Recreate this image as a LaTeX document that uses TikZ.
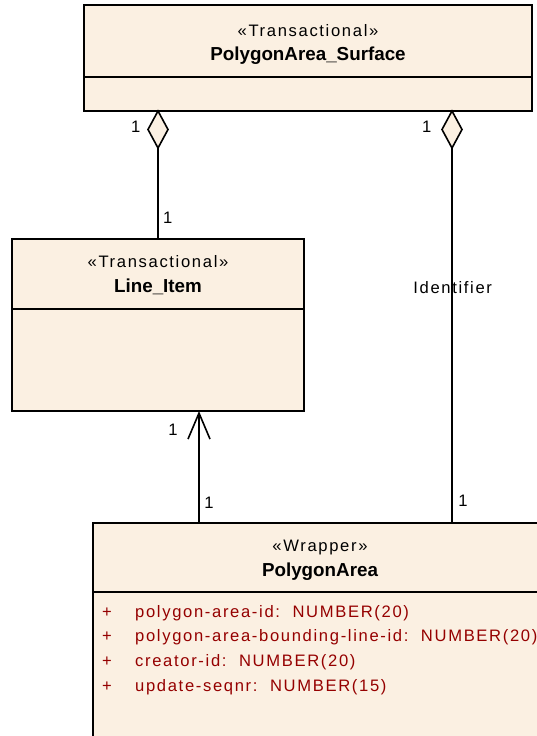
\documentclass[tikz,border=0pt]{standalone}
\usepackage{fontspec}
\setmainfont{Liberation Sans}
\newfontfamily\trk[LetterSpace=10]{Liberation Sans}
\usetikzlibrary{shapes.geometric,arrows.meta,calc}
\definecolor{boxfill}{HTML}{FBF0E2}
\definecolor{attrcol}{HTML}{950000}
\tikzset{
  boxpart/.style={draw, line width=1.8pt, fill=boxfill, inner sep=0pt, outer sep=0pt, anchor=north west},
  stereo/.style={font=\trk\fontsize{16.6}{19}\selectfont, anchor=base, inner sep=0pt},
  cname/.style={font=\bfseries\fontsize{18.8}{22}\selectfont, anchor=base, inner sep=0pt},
  mult/.style={font=\trk\fontsize{16.6}{19}\selectfont, anchor=base, inner sep=0pt},
  attrtxt/.style={font=\trk\fontsize{16.6}{19}\selectfont, text=attrcol, anchor=base west, inner sep=0pt},
  conn/.style={line width=1.6pt},
  aggr/.style={diamond, draw, line width=1.6pt, fill=boxfill, minimum width=20pt, minimum height=37pt, inner sep=0pt, outer sep=0pt, anchor=north}
}
\begin{document}
\begin{tikzpicture}[x=1pt,y=-1pt]
\useasboundingbox (0,0) rectangle (537,736);
\clip (0,0) rectangle (537,736);
\fill[white] (0,0) rectangle (537,736);

% PolygonArea_Surface
\node[boxpart, minimum width=448pt, minimum height=72pt] (surfH) at (84,5) {};
\node[boxpart, minimum width=448pt, minimum height=34pt] (surfB) at (84,77) {};
\node[stereo] (surfS) at (308,36.5) {«Transactional»};
\node[cname] (surfN) at (308,60) {PolygonArea\_Surface};

% Line_Item
\node[boxpart, minimum width=292pt, minimum height=70pt] (liH) at (12,239) {};
\node[boxpart, minimum width=292pt, minimum height=102pt] (liB) at (12,309) {};
\node[stereo] (liS) at (158,267.3) {«Transactional»};
\node[cname] (liN) at (158,292.3) {Line\_Item};

% PolygonArea
\node[boxpart, minimum width=467pt, minimum height=69pt] (paH) at (93,523) {};
\node[boxpart, minimum width=467pt, minimum height=170pt] (paB) at (93,592) {};
\node[stereo] (paS) at (320,551.7) {«Wrapper»};
\node[cname] (paN) at (320,576) {PolygonArea};
\foreach \i/\t in {0/{polygon-area-id:\ \ NUMBER(20)},
                   1/{polygon-area-bounding-line-id:\ \ NUMBER(20)},
                   2/{creator-id:\ \ NUMBER(20)},
                   3/{update-seqnr:\ \ NUMBER(15)}}{
  \node[attrtxt] (plus\i) at (102,617+24.8*\i) {+};
  \node[attrtxt] (attr\i) at (135,617+24.8*\i) {\t};
}

% aggregation diamonds
\node[aggr] (dL) at (158,111) {};
\node[aggr] (dR) at (452,111) {};

% connection points
\coordinate (liTop) at (158,239);
\coordinate (paTopR) at (452,523);
\coordinate (paTopL) at (199,523);
\coordinate (liBot) at (199,411);

\draw[conn] (dL.south) -- (liTop);
\draw[conn] (dR.south) -- (paTopR);
\draw[conn, -{Straight Barb[length=26pt,width=22pt]}] (paTopL) -- (liBot);

% multiplicities and labels
\node[mult] (mL1) at (135.7,132.7) {1};
\node[mult] (mL2) at (167.7,223.3) {1};
\node[mult] (mR1) at (426.7,132.7) {1};
\node[mult] (mR2) at (463,506.7) {1};
\node[mult] (mA1) at (173,435.7) {1};
\node[mult] (mA2) at (209,508) {1};
\node[mult] (idl) at (452.7,293.3) {Identifier};
\end{tikzpicture}
\end{document}
